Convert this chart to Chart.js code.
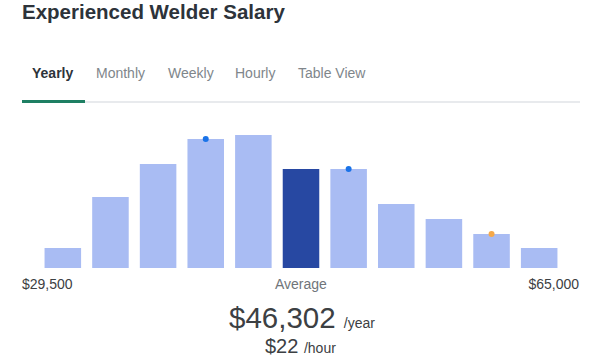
<!DOCTYPE html>
<html>
<head>
<meta charset="utf-8">
<script src="https://cdn.jsdelivr.net/npm/chart.js@4"></script>
<style>
  body { margin: 0; width: 600px; height: 364px; background: #fff; font-family: "Liberation Sans", Arial, sans-serif; position: relative; overflow: hidden; }
  .t { position: absolute; white-space: nowrap; }
  #title { left: 22px; top: 0px; font-size: 20.5px; font-weight: bold; color: #2d333a; }
  .tab { top: 65px; font-size: 14px; color: #80868b; }
  #line { position: absolute; left: 22px; top: 101px; width: 558px; height: 2px; background: #e8eaed; }
  #sel { position: absolute; left: 22px; top: 100px; width: 63px; height: 3px; background: #1e7f63; }
  #wrap { position: absolute; left: 39px; top: 128px; width: 524px; height: 140px; }
  .lbl { top: 276px; font-size: 14px; color: #3c4043; }
</style>
</head>
<body>
<div class="t" id="title">Experienced Welder Salary</div>
<div class="t tab" style="left:32px;font-weight:bold;color:#2d333a">Yearly</div>
<div class="t tab" style="left:96px">Monthly</div>
<div class="t tab" style="left:168px">Weekly</div>
<div class="t tab" style="left:235px">Hourly</div>
<div class="t tab" style="left:298px">Table View</div>
<div id="line"></div>
<div id="sel"></div>
<div id="wrap"><canvas id="myChart"></canvas></div>
<div class="t lbl" style="left:22px">$29,500</div>
<div class="t lbl" style="left:275px;color:#70757a">Average</div>
<div class="t lbl" style="right:21px">$65,000</div>
<div class="t" style="left:229px;top:301px;font-size:29.5px;line-height:34px;color:#3c4043">$46,302 <span style="font-size:14px">/year</span></div>
<div class="t" style="left:265px;top:335px;font-size:20px;line-height:23px;color:#3c4043">$22 <span style="font-size:14px">/hour</span></div>
<script>
// salary buckets, left to right
const buckets = ['b1', 'b2', 'b3', 'b4', 'b5', 'b6', 'b7', 'b8', 'b9', 'b10', 'b11']
const counts = [20, 71, 104, 129, 133, 99, 99, 64, 49, 34, 20]
const avgIndex = 5
// little markers sitting on some bars
const markers = [null, null, null, 129, null, null, 99, null, null, 34, null]
const markerColors = ['#1a73e8', '#1a73e8', '#1a73e8', '#1a73e8', '#1a73e8', '#1a73e8', '#1a73e8', '#1a73e8', '#1a73e8', '#f6a94a', '#1a73e8']

const barColors = counts.map((v, i) => i === avgIndex ? '#2748a2' : '#a9bcf3')

const ctx = document.getElementById('myChart')

new Chart(ctx, {
  type: 'bar',
  data: {
    labels: buckets,
    datasets: [{
      type: 'line',
      data: markers,
      showLine: false,
      pointRadius: 3,
      pointBorderWidth: 0,
      pointBackgroundColor: markerColors,
      order: 0,
      clip: false
    }, {
      data: counts,
      backgroundColor: barColors,
      categoryPercentage: 1,
      barPercentage: 0.767,
      order: 1
    }]
  },
  options: {
    responsive: true,
    maintainAspectRatio: false,
    animation: false,
    layout: { padding: 0, autoPadding: false },
    plugins: { legend: { display: false }, tooltip: { enabled: false } },
    scales: {
      x: { display: false },
      y: { display: false, min: 0, max: 140 }
    }
  }
})
</script>
</body>
</html>
